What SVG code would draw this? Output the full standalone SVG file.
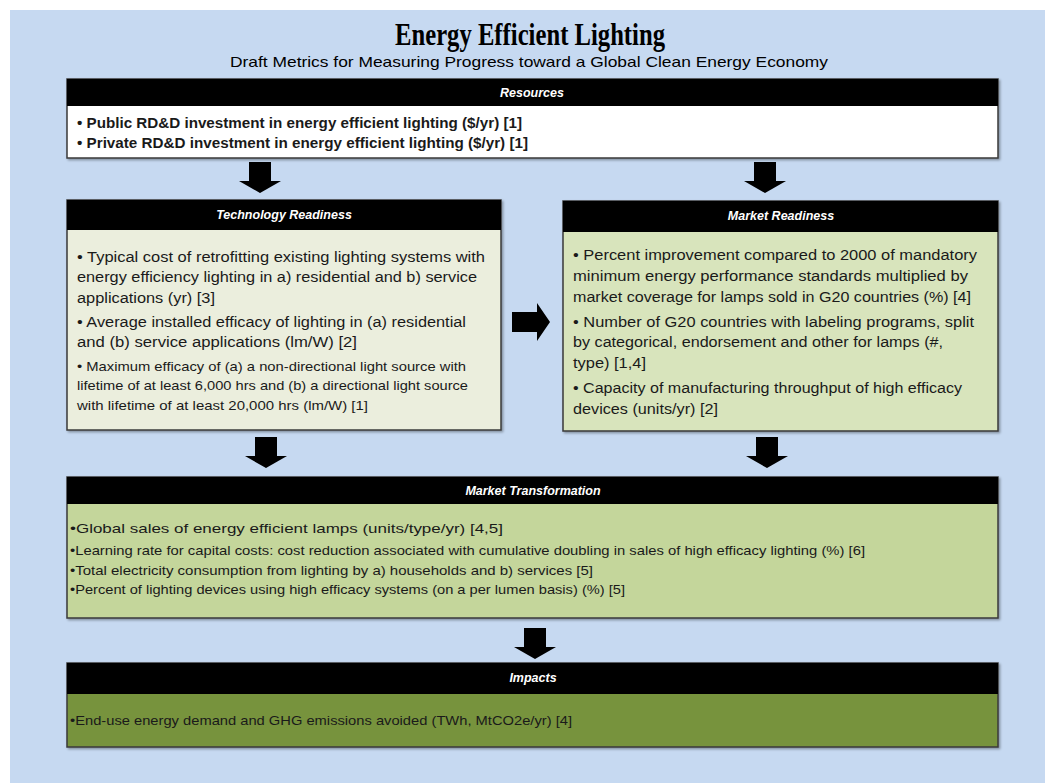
<svg xmlns="http://www.w3.org/2000/svg" width="1045" height="783" viewBox="0 0 1045 783">
<style>
.bg{fill:#c6d9f1}
.box{stroke:#3a3a3a;stroke-width:1.5}
.hdr{fill:#000}
.ht{font-family:"Liberation Sans",Arial,sans-serif;font-weight:bold;font-style:italic;font-size:12.5px;fill:#fff;text-anchor:middle}
.t{font-family:"Liberation Sans",Arial,sans-serif;font-size:14px;fill:#1a1a1a}
.tb{font-family:"Liberation Sans",Arial,sans-serif;font-size:14px;font-weight:bold;fill:#1a1a1a}
.ts{font-family:"Liberation Sans",Arial,sans-serif;font-size:13px;fill:#1a1a1a}
.arr{fill:#000}
</style>
<defs>
<filter id="sh" x="-5%" y="-5%" width="110%" height="115%">
<feDropShadow dx="1.5" dy="1.5" stdDeviation="1" flood-color="#000" flood-opacity="0.35"/>
</filter>
</defs>
<rect width="1045" height="783" fill="#fff"/>
<rect class="bg" x="10" y="10" width="1035" height="773"/>
<g id="title">
<text x="530" y="45" text-anchor="middle" textLength="270" lengthAdjust="spacingAndGlyphs" style="font-family:'Liberation Serif','Times New Roman',serif;font-weight:bold;font-size:32px;fill:#000">Energy Efficient Lighting</text>
<text x="529" y="67" text-anchor="middle" textLength="598" lengthAdjust="spacingAndGlyphs" style="font-family:'Liberation Sans',Arial,sans-serif;font-size:15px;fill:#000">Draft Metrics for Measuring Progress toward a Global Clean Energy Economy</text>
</g>
<g id="resources">
<rect class="box" x="67" y="79" width="931" height="79" fill="#fff" filter="url(#sh)"/>
<rect class="hdr" x="67" y="79" width="931" height="27"/>
<text class="ht" x="532" y="97">Resources</text>
<text class="tb" x="77" y="128" textLength="445" lengthAdjust="spacingAndGlyphs">• Public RD&amp;D investment in energy efficient lighting ($/yr) [1]</text>
<text class="tb" x="77" y="148" textLength="451" lengthAdjust="spacingAndGlyphs">• Private RD&amp;D investment in energy efficient lighting ($/yr) [1]</text>
</g>
<g id="technology-readiness">
<rect class="box" x="67" y="200" width="434" height="230" fill="#ebeedd" filter="url(#sh)"/>
<rect class="hdr" x="67" y="200" width="434" height="30"/>
<text class="ht" x="284" y="219">Technology Readiness</text>
<text class="t" x="77" y="262" textLength="408" lengthAdjust="spacingAndGlyphs">• Typical cost of retrofitting existing lighting systems with</text>
<text class="t" x="77" y="282" textLength="400" lengthAdjust="spacingAndGlyphs">energy efficiency lighting in a) residential and b) service</text>
<text class="t" x="77" y="303" textLength="138" lengthAdjust="spacingAndGlyphs">applications (yr) [3]</text>
<text class="t" x="77" y="327" textLength="389" lengthAdjust="spacingAndGlyphs">• Average installed efficacy of lighting in (a) residential</text>
<text class="t" x="77" y="347" textLength="280" lengthAdjust="spacingAndGlyphs">and (b) service applications (lm/W)  [2]</text>
<text class="ts" x="77" y="371" textLength="389" lengthAdjust="spacingAndGlyphs">• Maximum efficacy of (a) a non-directional light source  with</text>
<text class="ts" x="77" y="390" textLength="391" lengthAdjust="spacingAndGlyphs">lifetime of at least 6,000 hrs and (b) a directional light source</text>
<text class="ts" x="77" y="410" textLength="291" lengthAdjust="spacingAndGlyphs">with lifetime of at least 20,000 hrs (lm/W) [1]</text>
</g>
<g id="market-readiness">
<rect class="box" x="563" y="201" width="435" height="230" fill="#d8e4bc" filter="url(#sh)"/>
<rect class="hdr" x="563" y="201" width="435" height="31"/>
<text class="ht" x="781" y="220">Market Readiness</text>
<text class="t" x="573" y="260" textLength="404" lengthAdjust="spacingAndGlyphs">• Percent improvement compared to 2000 of mandatory</text>
<text class="t" x="573" y="281" textLength="395" lengthAdjust="spacingAndGlyphs">minimum energy performance standards multiplied by</text>
<text class="t" x="573" y="302" textLength="398" lengthAdjust="spacingAndGlyphs">market coverage for lamps sold in G20 countries (%) [4]</text>
<text class="t" x="573" y="327" textLength="401" lengthAdjust="spacingAndGlyphs">• Number of G20 countries with labeling programs, split</text>
<text class="t" x="573" y="347" textLength="370" lengthAdjust="spacingAndGlyphs">by categorical, endorsement and other for lamps (#,</text>
<text class="t" x="573" y="368" textLength="73" lengthAdjust="spacingAndGlyphs">type) [1,4]</text>
<text class="t" x="573" y="393" textLength="389" lengthAdjust="spacingAndGlyphs">• Capacity of manufacturing throughput of high efficacy</text>
<text class="t" x="573" y="414" textLength="145" lengthAdjust="spacingAndGlyphs">devices (units/yr) [2]</text>
</g>
<g id="market-transformation">
<rect class="box" x="67" y="477" width="931" height="141" fill="#c4d69b" filter="url(#sh)"/>
<rect class="hdr" x="67" y="477" width="931" height="27"/>
<text class="ht" x="533" y="495">Market Transformation</text>
<text class="ts" x="70" y="533" textLength="433" lengthAdjust="spacingAndGlyphs">•Global sales of energy efficient lamps (units/type/yr) [4,5]</text>
<text class="ts" x="70" y="555" textLength="795" lengthAdjust="spacingAndGlyphs">•Learning rate for capital costs: cost reduction associated with cumulative doubling in sales of high efficacy lighting (%) [6]</text>
<text class="ts" x="70" y="575" textLength="523" lengthAdjust="spacingAndGlyphs">•Total electricity consumption from lighting by a) households and b) services [5]</text>
<text class="ts" x="70" y="594" textLength="555" lengthAdjust="spacingAndGlyphs">•Percent of lighting devices using high efficacy systems (on a per lumen basis) (%) [5]</text>
</g>
<g id="impacts">
<rect class="box" x="67" y="663" width="931" height="84" fill="#77933c" filter="url(#sh)"/>
<rect class="hdr" x="67" y="663" width="931" height="31"/>
<text class="ht" x="533" y="682">Impacts</text>
<text class="ts" x="70" y="725" textLength="502" lengthAdjust="spacingAndGlyphs">•End-use energy demand and GHG emissions avoided (TWh, MtCO2e/yr) [4]</text>
</g>
<g id="connectors">
<path class="arr" d="M249,162 H271 V181 H281 L260,193 L239,181 H249 Z"/>
<path class="arr" d="M754,162 H776 V181 H786 L765,193 L744,181 H754 Z"/>
<path class="arr" d="M255,437 H277 V456 H287 L266,468 L245,456 H255 Z"/>
<path class="arr" d="M756,437 H778 V456 H788 L767,468 L746,456 H756 Z"/>
<path class="arr" d="M524,628 H546 V647 H556 L535,659 L514,647 H524 Z"/>
<path class="arr" d="M512,312 H537 V303 L550,322 L537,341 V332 H512 Z"/>
</g>
</svg>
